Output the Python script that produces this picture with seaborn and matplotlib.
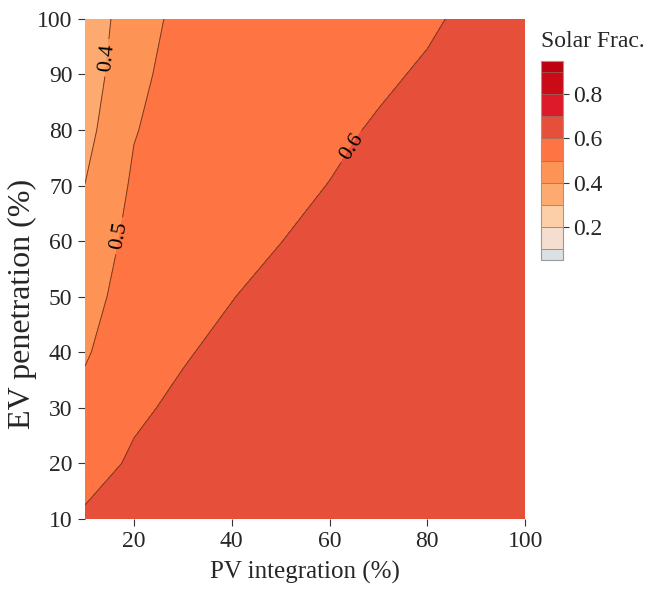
#!/usr/bin/env python3

import numpy as np
import matplotlib
matplotlib.use("Agg")
import matplotlib.pyplot as plt
from matplotlib.colors import ListedColormap, BoundaryNorm
import seaborn as sns

# grid
pv = [10, 20, 30, 40, 50, 60, 70, 80, 90, 100]   # PV integration (%)
ev = [10, 20, 30, 40, 50, 60, 70, 80, 90, 100]   # EV penetration (%)

# solar fraction, one list per PV column (EV 10 -> 100)
sf_pv10 = [0.61, 0.57, 0.53, 0.49, 0.46, 0.43, 0.401, 0.37, 0.345, 0.33]
sf_pv20 = [0.64, 0.61, 0.588, 0.568, 0.549, 0.532, 0.514, 0.495, 0.478, 0.462]
sf_pv30 = [0.655, 0.635, 0.614, 0.594, 0.578, 0.565, 0.553, 0.545, 0.535, 0.524]
sf_pv40 = [0.665, 0.65, 0.635, 0.618, 0.598, 0.585, 0.574, 0.565, 0.557, 0.55]
sf_pv50 = [0.672, 0.662, 0.65, 0.637, 0.622, 0.599, 0.588, 0.58, 0.572, 0.566]
sf_pv60 = [0.677, 0.67, 0.66, 0.65, 0.638, 0.624, 0.601, 0.59, 0.582, 0.576]
sf_pv70 = [0.68, 0.675, 0.668, 0.66, 0.65, 0.638, 0.622, 0.605, 0.592, 0.585]
sf_pv80 = [0.684, 0.68, 0.674, 0.667, 0.659, 0.65, 0.638, 0.624, 0.606, 0.593]
sf_pv90 = [0.686, 0.683, 0.678, 0.672, 0.666, 0.659, 0.65, 0.64, 0.627, 0.612]
sf_pv100 = [0.688, 0.686, 0.682, 0.677, 0.672, 0.666, 0.659, 0.65, 0.64, 0.628]

levels = [0.05, 0.1, 0.2, 0.3, 0.4, 0.5, 0.6, 0.7, 0.8, 0.9, 0.95]
band_colors = ['#DCDFE3', '#F5DDD0', '#FDCFA8', '#FDAA70', '#FD9456',
               '#FE7443', '#E6503A', '#DC1A2A', '#CB0A18', '#BE0010']
line_levels = [0.4, 0.5, 0.6]
cbar_ticks = [0.2, 0.4, 0.6, 0.8]

sns.set_theme(style="ticks")
plt.rcParams['font.family'] = ['Liberation Serif', 'DejaVu Serif']

Z = np.array([sf_pv10, sf_pv20, sf_pv30, sf_pv40, sf_pv50,
              sf_pv60, sf_pv70, sf_pv80, sf_pv90, sf_pv100]).T
X, Y = np.meshgrid(pv, ev)

cmap = ListedColormap(band_colors)
norm = BoundaryNorm(levels, cmap.N)

fig = plt.figure(figsize=(6.54, 5.89), dpi=100)
ax = fig.add_axes([0.130, 0.119, 0.673, 0.849])
cax = fig.add_axes([0.827, 0.559, 0.034, 0.337])

cs = ax.contourf(X, Y, Z, levels=levels, cmap=cmap, norm=norm)
cl = ax.contour(X, Y, Z, levels=line_levels, colors='#7a3a1e', linewidths=0.7)
ax.clabel(cl, fmt='%.1f', fontsize=16, colors='black', inline=True,
          manual=[(14.5, 93), (16.5, 61), (64.5, 77)])

ax.set_xlim(10, 100)
ax.set_ylim(10, 100)
ax.set_xticks([20, 40, 60, 80, 100])
ax.set_yticks([10, 20, 30, 40, 50, 60, 70, 80, 90, 100])
ax.tick_params(axis='both', labelsize=17, length=5, width=0.8,
               color='#333333', direction='out', pad=4)
ax.set_xlabel('PV integration (%)', fontsize=18, labelpad=6)
ax.set_ylabel('EV penetration (%)', fontsize=23)
ax.yaxis.set_label_coords(-0.108, 0.43)
sns.despine(ax=ax, left=True, bottom=True)

cb = fig.colorbar(cs, cax=cax, ticks=cbar_ticks, drawedges=True,
                  spacing='proportional')
cb.minorticks_off()
cb.outline.set_edgecolor('#999999')
cb.outline.set_linewidth(0.8)
cb.dividers.set_color('#8a6a60')
cb.dividers.set_linewidth(0.5)
cb.ax.tick_params(labelsize=17, length=4, width=0.8, color='#333333')
cb.ax.set_yticklabels(['0.2', '0.4', '0.6', '0.8'])
fig.text(0.827, 0.929, 'Solar Frac.', fontsize=17, ha='left', va='center')

plt.savefig('out.png', dpi=100)
